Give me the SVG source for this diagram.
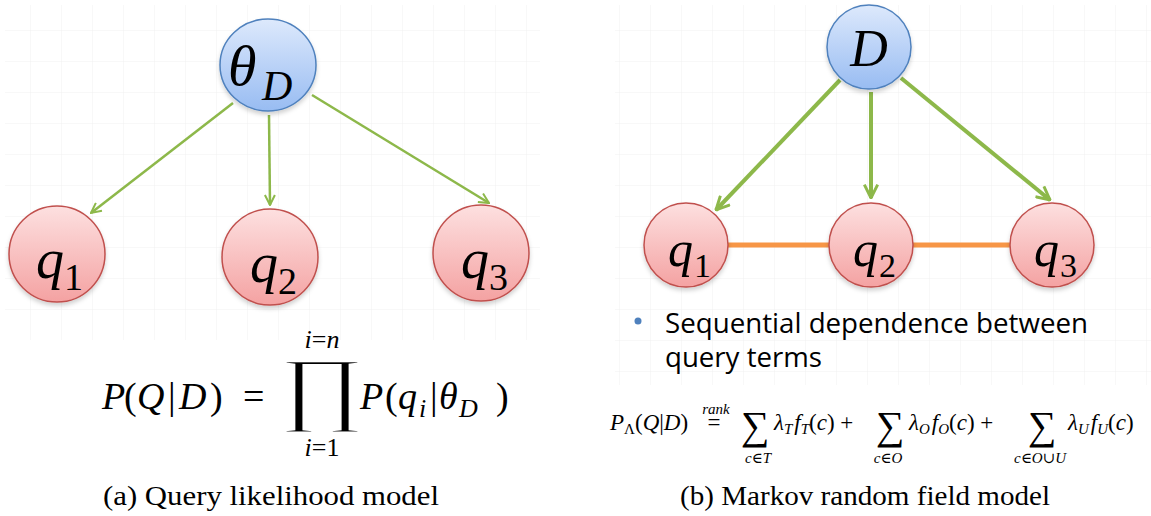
<svg xmlns="http://www.w3.org/2000/svg" width="1151" height="516" viewBox="0 0 1151 516">
<defs>
<linearGradient id="gBlue" x1="0" y1="0" x2="0" y2="1">
<stop offset="0" stop-color="#dde9fc"/>
<stop offset="1" stop-color="#98bcf2"/>
</linearGradient>
<linearGradient id="gRed" x1="0" y1="0" x2="0" y2="1">
<stop offset="0" stop-color="#fde0e0"/>
<stop offset="1" stop-color="#f4a2a2"/>
</linearGradient>
<pattern id="grid" width="31" height="31" patternUnits="userSpaceOnUse">
<path d="M31 0V31M0 31H31" fill="none" stroke="#f1f1f1" stroke-width="1"/>
</pattern>
<marker id="ah" viewBox="0 0 12 12" refX="11" refY="6" markerWidth="12" markerHeight="12" markerUnits="userSpaceOnUse" orient="auto">
<path d="M1 1L11 6L1 11" fill="none" stroke="#8db84a" stroke-width="2"/>
</marker>
<marker id="ah2" viewBox="0 0 12 12" refX="11" refY="6" markerWidth="16" markerHeight="16" markerUnits="userSpaceOnUse" orient="auto">
<path d="M1 1L11 6L1 11" fill="none" stroke="#8db84a" stroke-width="2.2"/>
</marker>
<filter id="sh" x="-20%" y="-20%" width="140%" height="150%">
<feDropShadow dx="0" dy="3" stdDeviation="2" flood-color="#000" flood-opacity="0.18"/>
</filter>
</defs>
<style>
.blue{fill:url(#gBlue);stroke:#4f81bd;stroke-width:1.5;filter:url(#sh)}
.red{fill:url(#gRed);stroke:#c0504d;stroke-width:1.5;filter:url(#sh)}
.m{font-family:"Liberation Serif","DejaVu Serif",serif;font-style:italic;fill:#000}
.sub{font-family:"Liberation Serif","DejaVu Serif",serif;font-style:normal;fill:#000}
.lm{font-family:"Liberation Serif","DejaVu Serif",serif;fill:#000}
.cap{font-family:"Liberation Serif","DejaVu Serif",serif;font-size:28px;fill:#000}
.body{font-family:"Open Sans","Noto Sans","Liberation Sans",sans-serif;font-size:28px;fill:#000}
</style>
<rect width="1151" height="516" fill="#fff"/>
<rect x="5" y="5" width="535" height="335" fill="url(#grid)"/>
<rect x="615" y="5" width="536" height="380" fill="url(#grid)"/>

<g id="connectors">
<line x1="233" y1="103" x2="91" y2="213" stroke="#8db84a" stroke-width="2.5" marker-end="url(#ah)"/>
<line x1="269" y1="115" x2="270" y2="205" stroke="#8db84a" stroke-width="2.5" marker-end="url(#ah)"/>
<line x1="312" y1="95" x2="489" y2="203" stroke="#8db84a" stroke-width="2.5" marker-end="url(#ah)"/>
<line x1="840" y1="80" x2="716" y2="210" stroke="#8db84a" stroke-width="4" marker-end="url(#ah2)"/>
<line x1="871" y1="92" x2="871" y2="198" stroke="#8db84a" stroke-width="4" marker-end="url(#ah2)"/>
<line x1="901" y1="78" x2="1050" y2="200" stroke="#8db84a" stroke-width="4" marker-end="url(#ah2)"/>
<line x1="728" y1="245" x2="830" y2="245" stroke="#f79646" stroke-width="5"/>
<line x1="913" y1="245" x2="1011" y2="245" stroke="#f79646" stroke-width="5"/>
</g>

<g id="thetaD">
<ellipse class="blue" cx="268" cy="65" rx="48" ry="46"/>
<text class="m" x="228" y="85" font-size="58">θ</text>
<text class="m" x="262" y="100" font-size="42">D</text>
</g>
<g id="q1a">
<circle class="red" cx="57" cy="254" r="48"/>
<text class="m" x="36" y="278" font-size="56">q</text>
<text class="sub" x="64" y="290" font-size="38">1</text>
</g>
<g id="q2a">
<circle class="red" cx="270" cy="257" r="48"/>
<text class="m" x="250" y="282" font-size="56">q</text>
<text class="sub" x="278" y="294" font-size="38">2</text>
</g>
<g id="q3a">
<circle class="red" cx="481" cy="253" r="48"/>
<text class="m" x="461" y="278" font-size="56">q</text>
<text class="sub" x="489" y="290" font-size="38">3</text>
</g>

<g id="D">
<circle class="blue" cx="869" cy="47" r="42"/>
<text class="m" x="869" y="66" font-size="52" text-anchor="middle">D</text>
</g>
<g id="q1b">
<circle class="red" cx="686" cy="245" r="42"/>
<text class="m" x="668" y="266" font-size="50">q</text>
<text class="sub" x="694" y="277" font-size="34">1</text>
</g>
<g id="q2b">
<circle class="red" cx="871" cy="245" r="42"/>
<text class="m" x="853" y="266" font-size="50">q</text>
<text class="sub" x="879" y="277" font-size="34">2</text>
</g>
<g id="q3b">
<circle class="red" cx="1052" cy="245" r="42"/>
<text class="m" x="1034" y="266" font-size="50">q</text>
<text class="sub" x="1060" y="277" font-size="34">3</text>
</g>

<g id="formula-a">
<text class="m" y="409" font-size="38"><tspan x="102">P</tspan><tspan x="124" font-style="normal">(</tspan><tspan x="137">Q</tspan><tspan x="168" font-style="normal">|</tspan><tspan x="179">D</tspan><tspan x="210" font-style="normal">)</tspan><tspan x="243" font-style="normal">=</tspan></text>
<text class="lm" x="322" y="348" font-size="26" text-anchor="middle"><tspan font-style="italic">i</tspan>=<tspan font-style="italic">n</tspan></text>
<text class="lm" x="0" y="415" font-size="82" text-anchor="middle" stroke="#fff" stroke-width="2" transform="translate(322,0) scale(1.25,1)">∏</text>
<text class="lm" x="322" y="456" font-size="26" text-anchor="middle"><tspan font-style="italic">i</tspan>=1</text>
<text class="m" y="409" font-size="38"><tspan x="360">P</tspan><tspan x="385" font-style="normal">(</tspan><tspan x="398">q</tspan><tspan x="419" y="417" font-size="26">i</tspan><tspan x="430" y="409" font-style="normal">|</tspan><tspan x="439">θ</tspan><tspan x="459" y="417" font-size="26">D</tspan><tspan x="496" y="409" font-style="normal">)</tspan></text>
</g>

<g id="bullet">
<circle cx="638" cy="321" r="3.5" fill="#4f81bd"/>
<text class="body" x="665" y="333" textLength="423" lengthAdjust="spacingAndGlyphs">Sequential dependence between</text>
<text class="body" x="665" y="367" textLength="157" lengthAdjust="spacingAndGlyphs">query terms</text>
</g>

<g id="formula-b" class="lm" font-size="23">
<text x="610" y="430"><tspan font-style="italic">P</tspan><tspan font-size="15" dy="4">Λ</tspan><tspan dy="-4">(</tspan><tspan font-style="italic">Q</tspan>|<tspan font-style="italic">D</tspan>)</text>
<text x="716" y="414" font-size="15" font-style="italic" text-anchor="middle">rank</text>
<text x="714" y="430" text-anchor="middle">=</text>
<text x="755" y="439" font-size="40" text-anchor="middle">∑</text>
<text x="758" y="463" font-size="15" text-anchor="middle"><tspan font-style="italic">c</tspan>∈<tspan font-style="italic">T</tspan></text>
<text x="774" y="430" font-style="italic">λ<tspan font-size="15" dy="4">T</tspan><tspan dy="-4" dx="2">f</tspan><tspan font-size="15" dy="4">T</tspan><tspan dy="-4" font-style="normal">(</tspan>c<tspan font-style="normal">) +</tspan></text>
<text x="890" y="439" font-size="40" text-anchor="middle">∑</text>
<text x="888" y="463" font-size="15" text-anchor="middle"><tspan font-style="italic">c</tspan>∈<tspan font-style="italic">O</tspan></text>
<text x="909" y="430" font-style="italic">λ<tspan font-size="15" dy="4">O</tspan><tspan dy="-4" dx="2">f</tspan><tspan font-size="15" dy="4">O</tspan><tspan dy="-4" font-style="normal">(</tspan>c<tspan font-style="normal">) +</tspan></text>
<text x="1042" y="439" font-size="40" text-anchor="middle">∑</text>
<text x="1040" y="463" font-size="15" text-anchor="middle"><tspan font-style="italic">c</tspan>∈<tspan font-style="italic">O</tspan>∪<tspan font-style="italic">U</tspan></text>
<text x="1068" y="430" font-style="italic">λ<tspan font-size="15" dy="4">U</tspan><tspan dy="-4" dx="2">f</tspan><tspan font-size="15" dy="4">U</tspan><tspan dy="-4" font-style="normal">(</tspan>c<tspan font-style="normal">)</tspan></text>
</g>

<g id="captions">
<text class="cap" x="103" y="505" textLength="336" lengthAdjust="spacingAndGlyphs">(a) Query likelihood model</text>
<text class="cap" x="680" y="505" textLength="370" lengthAdjust="spacingAndGlyphs">(b) Markov random field model</text>
</g>
</svg>
